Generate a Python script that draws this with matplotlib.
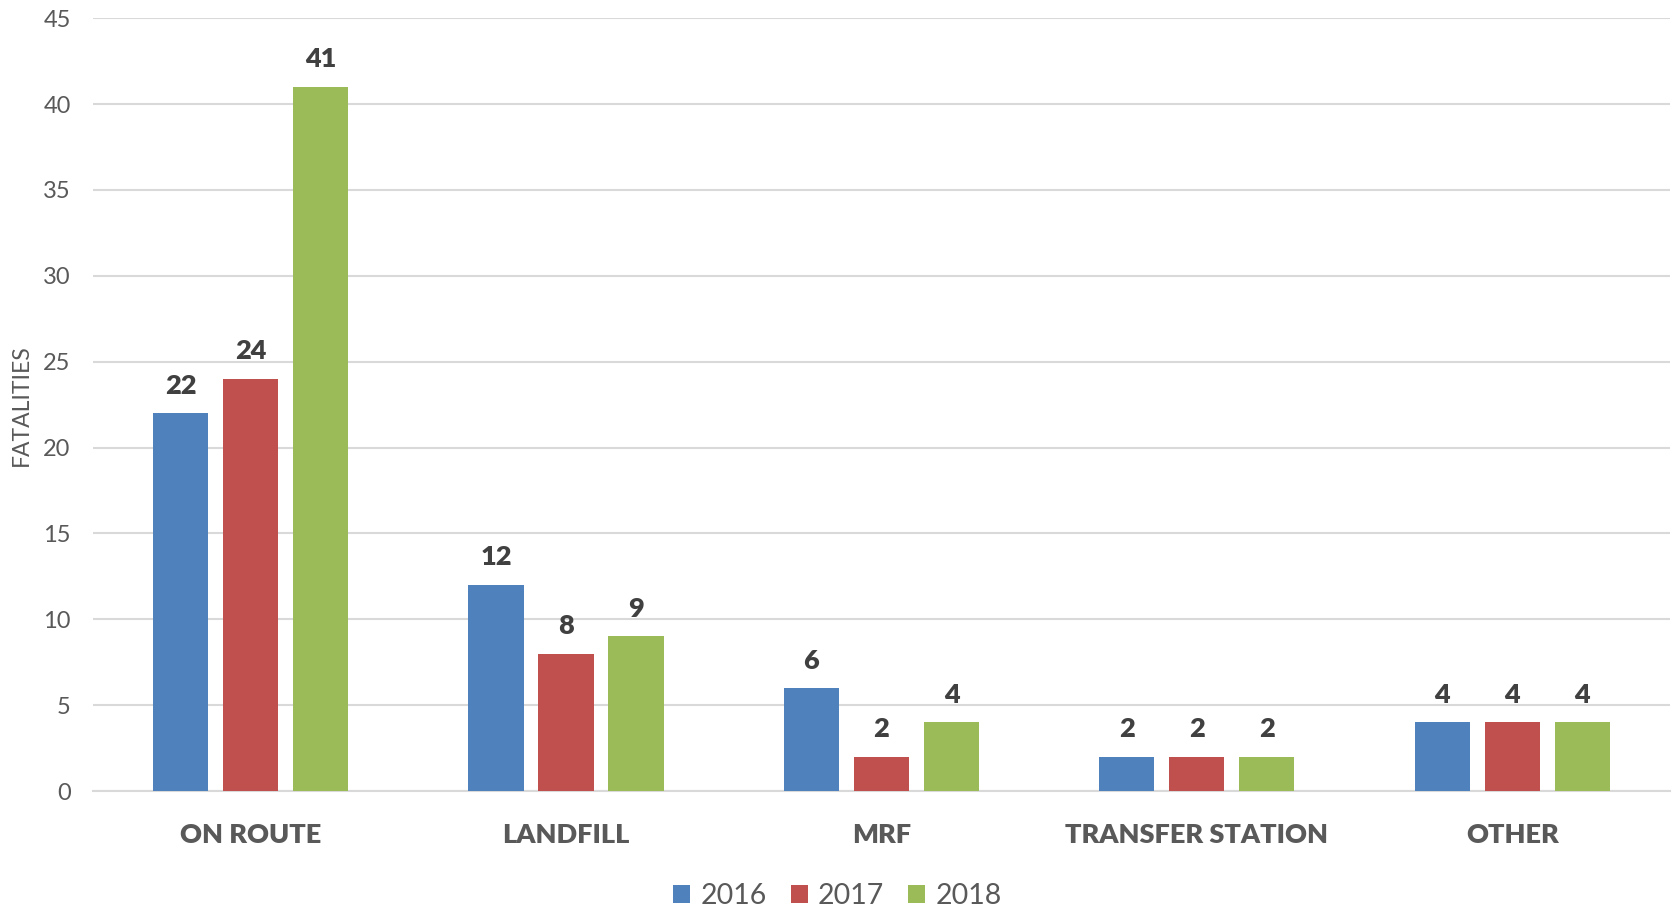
import matplotlib
matplotlib.use("Agg")
import matplotlib.pyplot as plt
import numpy as np

categories = ["ON ROUTE", "LANDFILL", "MRF", "TRANSFER STATION", "OTHER"]
years = ["2016", "2017", "2018"]
v2016 = [22, 12, 6, 2, 4]
v2017 = [24, 8, 2, 2, 4]
v2018 = [41, 9, 4, 2, 4]
colors = ["#4F81BD", "#C0504D", "#9BBB59"]

plt.rcParams['font.family'] = ['Lato', 'DejaVu Sans']

fig = plt.figure(figsize=(16.75, 9.13), dpi=100)
ax = fig.add_axes([0.0555, 0.1336, 0.9415, 0.8464])

x = np.arange(len(categories))
w = 0.175
off = 0.222
for i, (vals, c, lab) in enumerate(zip([v2016, v2017, v2018], colors, years)):
    bars = ax.bar(x + (i - 1) * off, vals, width=w, color=c, label=lab, zorder=3)
    for b, v in zip(bars, vals):
        ax.text(b.get_x() + b.get_width() / 2, v + 0.9, str(v), ha='center', va='bottom',
                fontsize=19.5, fontweight='heavy', color='#404040')

ax.set_xlim(-0.5, len(categories) - 0.5)
ax.set_ylim(0, 45)
ax.set_yticks(range(0, 46, 5))
ax.yaxis.grid(True, color='#D9D9D9', linewidth=1.5, zorder=0)
ax.set_axisbelow(True)
for s in ['top', 'right', 'left']:
    ax.spines[s].set_visible(False)
ax.spines['bottom'].set_color('#D9D9D9')
ax.spines['bottom'].set_linewidth(1.5)
ax.tick_params(axis='both', length=0)
ax.tick_params(axis='y', labelsize=17, labelcolor='#595959', pad=16)
ax.set_xticks(x)
ax.set_xticklabels(categories, fontsize=19.5, fontweight='heavy', color='#595959')
ax.tick_params(axis='x', pad=23)
ax.set_ylabel("FATALITIES", fontsize=16.5, color='#595959')
ax.yaxis.set_label_coords(-0.039, 0.5)

leg = fig.legend(loc='center', bbox_to_anchor=(0.5, 0.019), ncol=3, frameon=False,
                 fontsize=20.5, handlelength=0.6, handleheight=0.6, handletextpad=0.35,
                 columnspacing=0.85)
for t in leg.get_texts():
    t.set_color('#595959')

fig.savefig("out.png", dpi=100)
